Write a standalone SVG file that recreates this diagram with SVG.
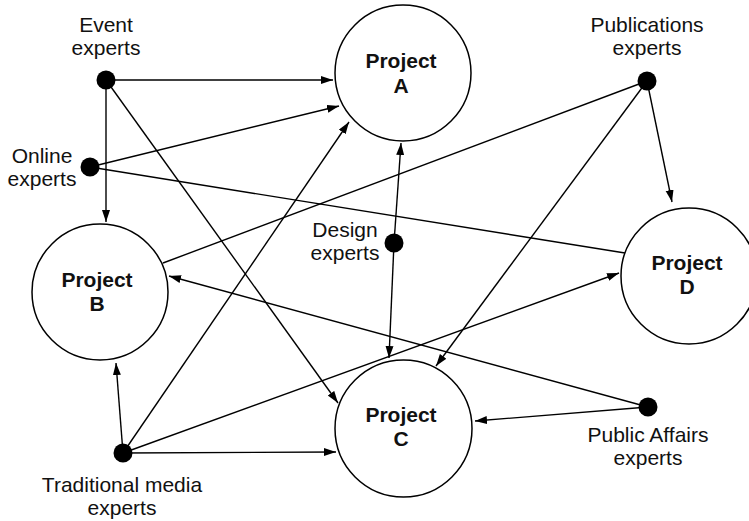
<svg xmlns="http://www.w3.org/2000/svg" width="749" height="521" viewBox="0 0 749 521">
<defs>
<style>
.proj{fill:#fff;stroke:#000;stroke-width:1.5}
.dot{fill:#000}
.lbl{font-family:"Liberation Sans",Arial,Helvetica,sans-serif;font-size:21px;fill:#111;text-anchor:middle}
.plbl{font-family:"Liberation Sans",Arial,Helvetica,sans-serif;font-size:21px;font-weight:bold;fill:#111;text-anchor:middle}
.c{stroke:#000;stroke-width:1.4;fill:none}
.a{marker-end:url(#arr)}
</style>
<marker id="arr" markerUnits="userSpaceOnUse" markerWidth="13" markerHeight="9" refX="12" refY="4" orient="auto">
<path d="M0,0 L12,4 L0,8 z" fill="#000"/>
</marker>
</defs>
<rect width="749" height="521" fill="#fff"/>
<g id="connectors">
<line class="c a" x1="106" y1="80" x2="333" y2="80"/>
<line class="c a" x1="106" y1="80" x2="106" y2="222"/>
<line class="c a" x1="106" y1="80" x2="338" y2="403"/>
<line class="c a" x1="90" y1="167" x2="339" y2="106"/>
<line class="c" x1="90" y1="167" x2="625" y2="253"/>
<line class="c a" x1="123" y1="453" x2="116" y2="363"/>
<line class="c a" x1="123" y1="453" x2="349" y2="122"/>
<line class="c a" x1="123" y1="453" x2="336" y2="452"/>
<line class="c a" x1="123" y1="453" x2="619" y2="273"/>
<line class="c" x1="647" y1="81" x2="163" y2="263"/>
<line class="c a" x1="647" y1="81" x2="436" y2="366"/>
<line class="c a" x1="647" y1="81" x2="672" y2="202"/>
<line class="c a" x1="394" y1="243" x2="401" y2="143"/>
<line class="c a" x1="394" y1="243" x2="389" y2="358"/>
<line class="c a" x1="648" y1="407" x2="475" y2="421"/>
<line class="c a" x1="648" y1="407" x2="169" y2="276"/>
</g>
<g id="projectA">
<circle class="proj" cx="403" cy="73" r="68"/>
<text class="plbl" x="401" y="68">Project</text>
<text class="plbl" x="401" y="93">A</text>
</g>
<g id="projectB">
<circle class="proj" cx="100" cy="292" r="68"/>
<text class="plbl" x="97" y="287">Project</text>
<text class="plbl" x="97" y="311">B</text>
</g>
<g id="projectC">
<circle class="proj" cx="403.5" cy="428.5" r="68.5"/>
<text class="plbl" x="401" y="422">Project</text>
<text class="plbl" x="401" y="446">C</text>
</g>
<g id="projectD">
<circle class="proj" cx="689" cy="276" r="68"/>
<text class="plbl" x="687" y="270">Project</text>
<text class="plbl" x="687" y="294">D</text>
</g>
<g id="eventExperts">
<circle class="dot" cx="106" cy="80" r="9.5"/>
<text class="lbl" x="106" y="32">Event</text>
<text class="lbl" x="106" y="55">experts</text>
</g>
<g id="onlineExperts">
<circle class="dot" cx="90" cy="167" r="9.5"/>
<text class="lbl" x="42" y="163">Online</text>
<text class="lbl" x="42" y="186">experts</text>
</g>
<g id="publicationsExperts">
<circle class="dot" cx="647" cy="81" r="9.5"/>
<text class="lbl" x="647" y="32">Publications</text>
<text class="lbl" x="647" y="55">experts</text>
</g>
<g id="designExperts">
<circle class="dot" cx="394" cy="243" r="9.5"/>
<text class="lbl" x="345" y="237">Design</text>
<text class="lbl" x="345" y="260">experts</text>
</g>
<g id="publicAffairsExperts">
<circle class="dot" cx="648" cy="407" r="9.5"/>
<text class="lbl" x="648" y="442">Public Affairs</text>
<text class="lbl" x="648" y="465">experts</text>
</g>
<g id="traditionalMediaExperts">
<circle class="dot" cx="123" cy="453" r="9.5"/>
<text class="lbl" x="122" y="492">Traditional media</text>
<text class="lbl" x="122" y="515">experts</text>
</g>
</svg>
